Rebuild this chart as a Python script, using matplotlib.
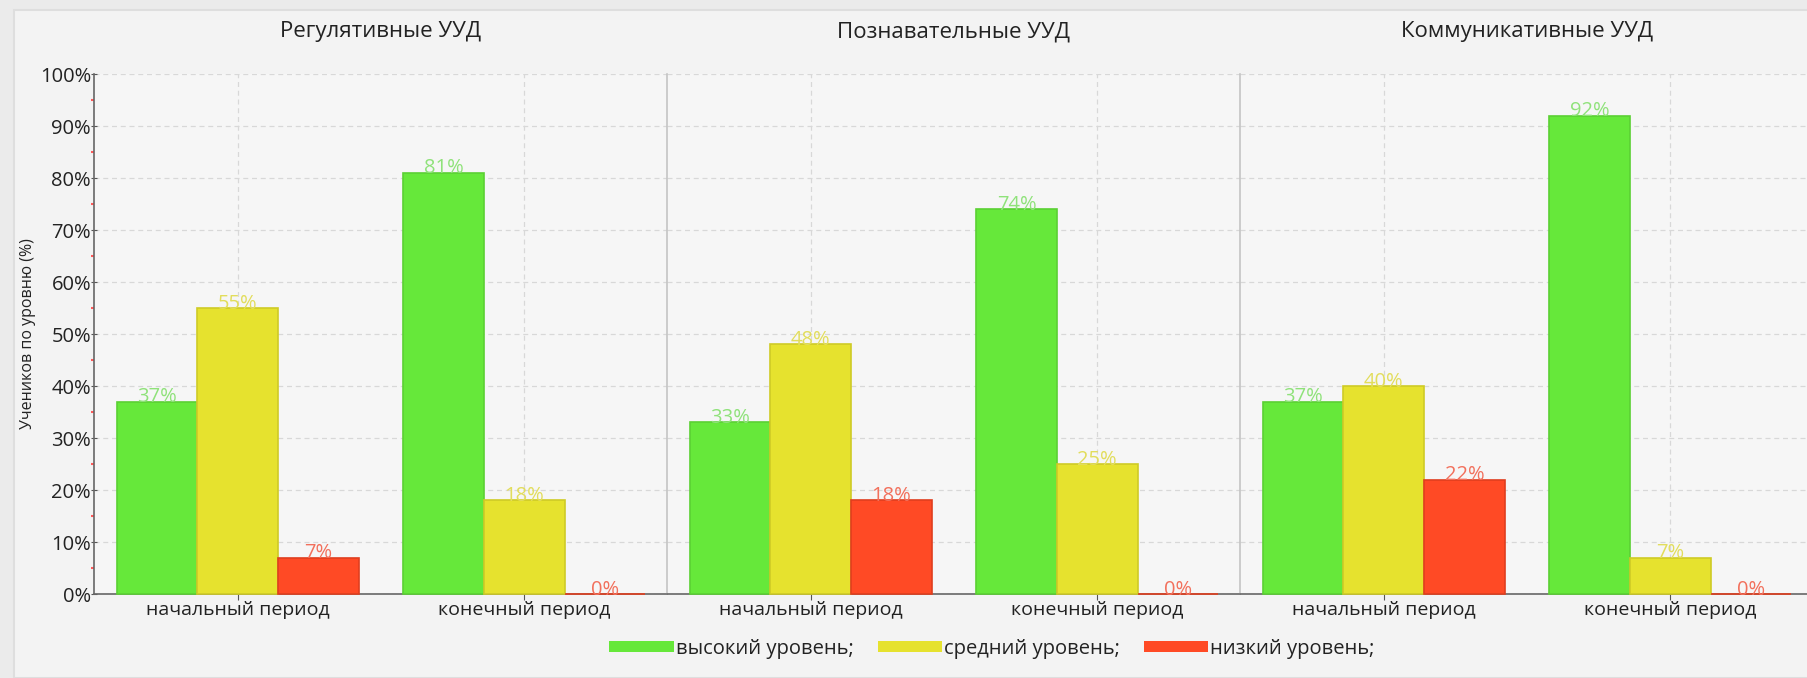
import matplotlib.pyplot as plt
from matplotlib.patches import Patch, Rectangle
import numpy as np

# data
panels = ['Регулятивные УУД', 'Познавательные УУД', 'Коммуникативные УУД']
periods = ['начальный период', 'конечный период']
levels = ['высокий уровень;', 'средний уровень;', 'низкий уровень;']
high = [[37, 81], [33, 74], [37, 92]]
mid = [[55, 18], [48, 25], [40, 7]]
low = [[7, 0], [18, 0], [22, 0]]

bar_colors = ['#66e83a', '#e6e22e', '#ff4a25']
edge_colors = ['#5bd033', '#cfcb26', '#e03e1e']
label_colors = ['#8fe27a', '#e2dd5c', '#f2705c']

plt.rcParams['font.family'] = ['Open Sans', 'DejaVu Sans']

W, H = 1808, 678
fig = plt.figure(figsize=(W / 100, H / 100), dpi=100)
fig.patch.set_facecolor('#ebebeb')

def fx(px):
    return px / W

def fy(py):
    return 1 - py / H

# outer panel frame
fig.patches.append(Rectangle((fx(14), 0), 1, fy(10), transform=fig.transFigure,
                             facecolor='#f3f3f3', edgecolor='#dedede', linewidth=1.5,
                             zorder=-10))

left, top, bottom = 94.5, 74, 594
pw = 573
x = np.arange(len(periods))
bw = 0.282

for i, name in enumerate(panels):
    x0 = left + i * pw
    x1 = min(x0 + pw, W)
    ax = fig.add_axes([fx(x0), fy(bottom), fx(x1 - x0), fy(top) - fy(bottom)])
    ax.set_facecolor('#f6f6f6')
    series = [high[i], mid[i], low[i]]
    for k, vals in enumerate(series):
        pos = x + (k - 1) * bw
        ax.bar(pos, vals, bw, color=bar_colors[k], edgecolor=edge_colors[k],
               linewidth=1.2, zorder=3, clip_on=False)
        for p, v in zip(pos, vals):
            ax.annotate(f'{v}%', (p, v), xytext=(0, -4), textcoords='offset points',
                        ha='center', va='bottom', color=label_colors[k], fontsize=14.5,
                        zorder=4)
    ax.set_xlim(-0.5, 1.5 if x1 - x0 >= pw else -0.5 + 2 * (x1 - x0) / pw)
    ax.set_ylim(0, 100)
    ax.set_xticks(x)
    ax.set_xticklabels(periods, fontsize=14, color='#222222')
    ax.tick_params(axis='x', length=4, color='#555555', pad=1)
    ax.set_yticks(np.arange(0, 101, 10))
    ax.grid(True, linestyle=(0, (4, 3)), color='#d8d8d8', linewidth=0.9, zorder=0)
    for s in ['top', 'right']:
        ax.spines[s].set_visible(False)
    ax.spines['bottom'].set_color('#666666')
    ax.spines['bottom'].set_linewidth(1.2)
    if i == 0:
        ax.set_yticklabels([f'{t}%' for t in range(0, 101, 10)], fontsize=14.5,
                           color='#222222')
        ax.set_yticks(np.arange(5, 100, 10), minor=True)
        ax.tick_params(axis='y', which='major', direction='inout', length=5,
                       color='#555555', pad=0)
        ax.tick_params(axis='y', which='minor', direction='out', length=2,
                       color='#ff5a5a', width=1.5)
        ax.spines['left'].set_color('#666666')
        ax.spines['left'].set_linewidth(1.2)
        ax.set_ylabel('Учеников по уровню (%)', fontsize=11.5, color='#222222',
                      labelpad=3)
    else:
        ax.set_yticklabels([])
        ax.tick_params(axis='y', length=0)
        ax.spines['left'].set_color('#c4c4c4')
        ax.spines['left'].set_linewidth(1.2)
    fig.text(fx(x0 + pw / 2), fy(32), name, ha='center', va='center',
             fontsize=16, color='#222222')

handles = [Patch(facecolor=c, edgecolor='none') for c in bar_colors]
fig.legend(handles, levels, loc='center', bbox_to_anchor=(fx(992), fy(649)),
           ncol=3, frameon=False, fontsize=14.5, handlelength=3.2, handleheight=0.45,
           handletextpad=0.1, columnspacing=1.2, labelcolor='#222222')

fig.savefig('out.png', dpi=100, facecolor=fig.get_facecolor())
